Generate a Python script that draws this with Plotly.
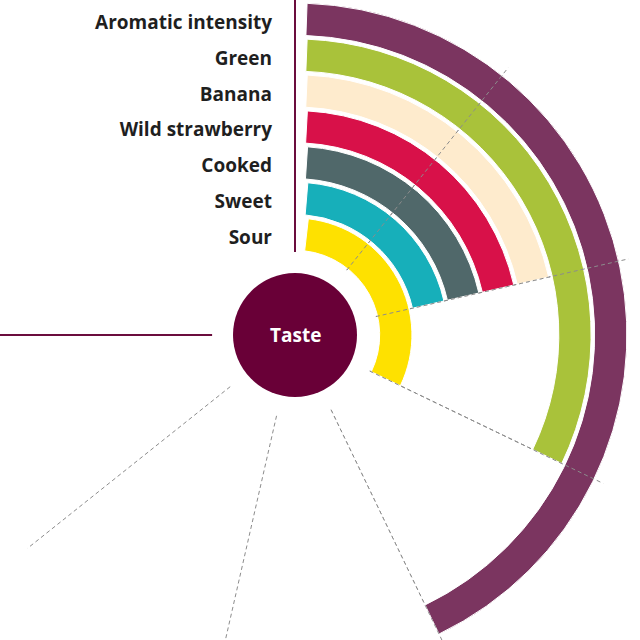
import math
import plotly.graph_objects as go

# ---------------- data ----------------
categories = ["Aromatic intensity", "Green", "Banana", "Wild strawberry",
              "Cooked", "Sweet", "Sour"]
values = [4, 3, 2, 2, 2, 2, 3]
bar_colors = ["#7b3560", "#a9c23a", "#feebcd", "#d81149",
              "#50686a", "#17afba", "#fee100"]
value_max = 7
value_ticks = [1, 2, 3, 4, 5, 6]
center_label = "Taste"

# ---------------- layout constants ----------------
W = H = 640
CX, CY = 295, 335            # centre of the radial chart (px)
R_PX = 333.7                 # outer radius of the category axis (px)
HOLE_PX = 82.9               # inner radius (px)
GRID_PX = 342                # grid lines extend to this radius (px)
FAR_PX = 420                 # axis lines run off the page
START_GAP_PX = 11.5          # gap between start axis and bars
CIRCLE_PX = 62
ARC_SPAN = 270.0             # value axis spans 270 degrees
DEG = ARC_SPAN / value_max
GRID_STYLE = dict(color="#8c8c8c", width=1, dash="4px,3px")
AXIS_STYLE = dict(color="#6b0d3d", width=2)

n = len(categories)
band = (R_PX - HOLE_PX) / n
ring = [n - 1 - i for i in range(n)]      # first category is outermost


def to_xy(px_r, deg):
    a = math.radians(deg)
    return px_r * math.sin(a), px_r * math.cos(a)


fig = go.Figure()

# ---- cartesian overlay (1 unit = 1 px, origin at chart centre): full grid ----
gx, gy = [], []
for t in value_ticks:
    for p in (HOLE_PX, GRID_PX):
        x, y = to_xy(p, t * DEG)
        gx.append(x); gy.append(y)
    gx.append(None); gy.append(None)
fig.add_trace(go.Scatter(x=gx, y=gy, mode="lines", line=GRID_STYLE,
                         hoverinfo="skip", showlegend=False))
ax_x, ax_y = [], []
for v in (0, value_max):
    for p in (HOLE_PX, FAR_PX):
        x, y = to_xy(p, v * DEG)
        ax_x.append(x); ax_y.append(y)
    ax_x.append(None); ax_y.append(None)
fig.add_trace(go.Scatter(x=ax_x, y=ax_y, mode="lines", line=AXIS_STYLE,
                         hoverinfo="skip", showlegend=False))

# ---- polar: bars ----
bar_base, bar_theta, bar_width = [], [], []
for k, v in zip(ring, values):
    mid_px = HOLE_PX + (k + 0.5) * band
    start = math.degrees(math.asin(START_GAP_PX / mid_px))
    end = v * DEG
    bar_base.append(k + 0.05)
    bar_theta.append((start + end) / 2)
    bar_width.append(end - start)

fig.add_trace(go.Barpolar(
    r=[0.9] * n, base=bar_base, theta=bar_theta, width=bar_width,
    marker=dict(color=bar_colors, line=dict(color="white", width=1)),
    hoverinfo="skip", showlegend=False))

# grid lines drawn again above the bars (inside the sector)
gr, gt = [], []
for t in value_ticks:
    if t <= max(values):
        gr += [0, n, None]
        gt += [t * DEG, t * DEG, None]
fig.add_trace(go.Scatterpolar(
    r=gr, theta=gt, mode="lines", line=GRID_STYLE,
    hoverinfo="skip", showlegend=False))

# category labels
fig.add_trace(go.Scatterpolar(
    r=[k + 0.36 for k in ring], theta=[0] * n,
    mode="markers+text", text=categories, textposition="middle left",
    marker=dict(size=35.2, color="rgba(0,0,0,0)"),
    textfont=dict(family="Open Sans", size=19, color="#1f1f1f", weight=700),
    cliponaxis=False, hoverinfo="skip", showlegend=False))

# sector & domain so that the centre lands at (CX, CY)
sec0 = 90 - max(values) * DEG
low = math.sin(math.radians(sec0))     # negative
ytop = CY - R_PX
ybot = CY - low * R_PX
fig.update_layout(
    width=W, height=H, autosize=False,
    margin=dict(l=0, r=0, t=0, b=0),
    paper_bgcolor="white", plot_bgcolor="rgba(0,0,0,0)",
    showlegend=False, hovermode=False,
    xaxis=dict(range=[-CX, W - CX], domain=[0, 1], visible=False, fixedrange=True),
    yaxis=dict(range=[CY - H, CY], domain=[0, 1], visible=False, fixedrange=True),
    polar=dict(
        domain=dict(x=[CX / W, (CX + R_PX) / W], y=[1 - ybot / H, 1 - ytop / H]),
        sector=[sec0, 90],
        hole=HOLE_PX / R_PX,
        bgcolor="rgba(0,0,0,0)",
        radialaxis=dict(range=[0, n], visible=False),
        angularaxis=dict(rotation=90, direction="clockwise", visible=False),
    ),
    shapes=[dict(
        type="circle", xref="x", yref="y",
        x0=-CIRCLE_PX, x1=CIRCLE_PX, y0=-CIRCLE_PX, y1=CIRCLE_PX,
        fillcolor="#690037", line=dict(width=0), layer="above")],
    annotations=[dict(
        text=center_label, x=0, y=0, xref="x", yref="y",
        showarrow=False, xanchor="center", yanchor="middle",
        font=dict(family="Open Sans", size=19, color="white", weight=700))],
)

fig.write_html("out.html", config={"displayModeBar": False},
               post_script="document.body.style.margin='0px';")
